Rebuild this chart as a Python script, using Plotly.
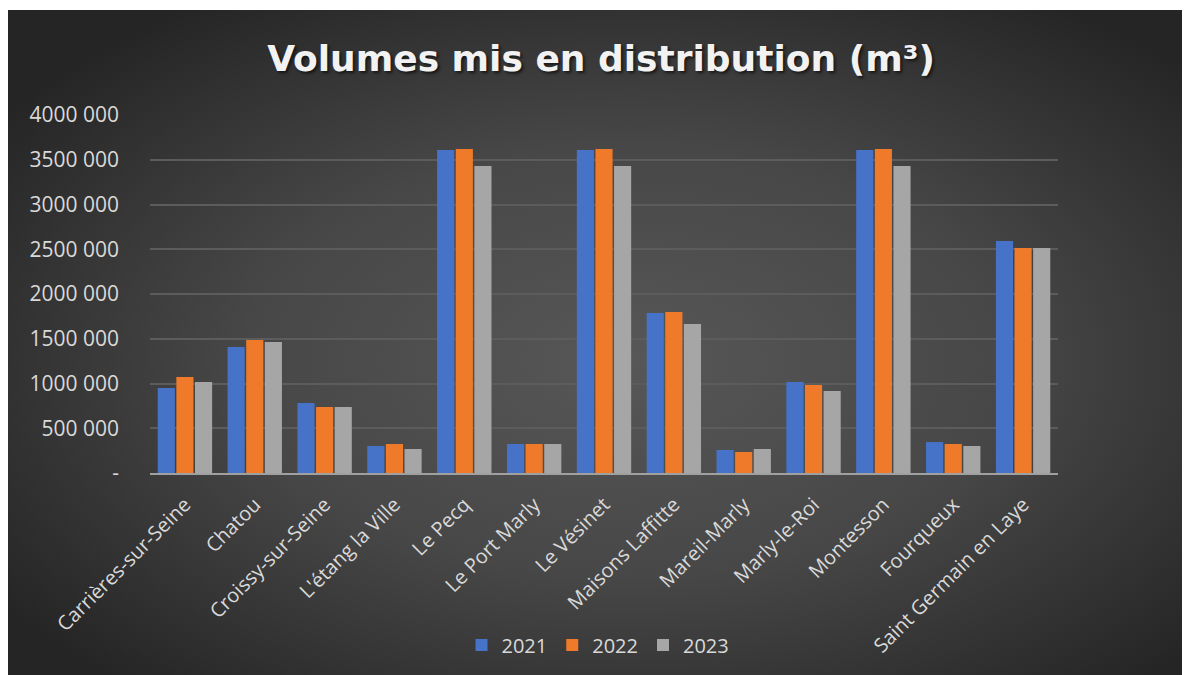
import urllib.parse
import plotly.graph_objects as go

communes = ["Carrières-sur-Seine", "Chatou", "Croissy-sur-Seine", "L'étang la Ville",
            "Le Pecq", "Le Port Marly", "Le Vésinet", "Maisons Laffitte", "Mareil-Marly",
            "Marly-le-Roi", "Montesson", "Fourqueux", "Saint Germain en Laye"]
v2021 = [950000, 1408000, 782000, 302000, 3609000, 324000, 3609000, 1788000, 257000,
         1017000, 3609000, 346000, 2592000]
v2022 = [1073000, 1486000, 737000, 324000, 3620000, 324000, 3620000, 1799000, 235000,
         983000, 3620000, 324000, 2514000]
v2023 = [1017000, 1464000, 737000, 268000, 3430000, 324000, 3430000, 1665000, 268000,
         916000, 3430000, 302000, 2514000]
years = ["2021", "2022", "2023"]
y_tickvals = [0, 500000, 1000000, 1500000, 2000000, 2500000, 3000000, 3500000, 4000000]
y_ticktext = ["-", "500 000", "1000 000", "1500 000", "2000 000", "2500 000",
              "3000 000", "3500 000", "4000 000"]

colors = ["#4673c8", "#ef7a2a", "#a6a6a6"]

W, H = 1190, 675
OFF = 8  # page body margin
L, R, T, B = 150 - OFF, 1058 - OFF, 115 - OFF, 473 - OFF

fig = go.Figure()
for name, vals, c in zip(years, [v2021, v2022, v2023], colors):
    fig.add_trace(go.Bar(x=communes, y=vals, name=name,
                         marker=dict(color=c, line=dict(width=0))))

bw, bh = W, H
svg = (
    f"<svg xmlns='http://www.w3.org/2000/svg' width='{bw}' height='{bh}' viewBox='0 0 {bw} {bh}' preserveAspectRatio='none'>"
    "<defs><radialGradient id='g' cx='0.52' cy='0.52' r='0.64'>"
    "<stop offset='0' stop-color='#575757'/><stop offset='0.5' stop-color='#474747'/>"
    "<stop offset='1' stop-color='#252525'/></radialGradient></defs>"
    f"<rect width='{bw}' height='{bh}' fill='url(#g)'/></svg>"
)
src = "data:image/svg+xml;charset=utf-8," + urllib.parse.quote(svg)

pw, ph = R - L, B - T
top_px = 2
fig.add_layout_image(dict(
    source=src, xref="paper", yref="paper",
    x=(0 - L) / pw, y=(B - top_px) / ph,
    sizex=bw / pw, sizey=bh / ph,
    xanchor="left", yanchor="top", sizing="stretch", layer="below"))

font_fam = "Open Sans, sans-serif"
fig.update_layout(
    width=W, height=H,
    margin=dict(l=L, r=W - R, t=T, b=H - B, pad=0),
    paper_bgcolor="white", plot_bgcolor="rgba(0,0,0,0)",
    barmode="group", bargap=0.2, bargroupgap=0.08,
    title=dict(text="<b>Volumes mis en distribution (m³)</b>",
               x=(601 - OFF) / W, xanchor="center", xref="container",
               y=1 - (58 - OFF) / H, yanchor="middle", yref="container",
               font=dict(family="DejaVu Sans, sans-serif", size=36, color="#f2f2f2",
                         shadow="2px 2px 3px rgba(0,0,0,0.6)")),
    font=dict(family=font_fam, color="#d9d9d9", size=20),
    showlegend=True,
    legend=dict(orientation="h", x=(598 - 150) / pw, xanchor="center",
                y=(473 - 645) / ph, yanchor="middle",
                font=dict(size=20, color="#d9d9d9"),
                bgcolor="rgba(0,0,0,0)", itemwidth=30,
                traceorder="normal"),
    xaxis=dict(tickangle=-45, showgrid=False, showline=True, linecolor="#a0a0a0",
               linewidth=2, ticks="", tickfont=dict(size=20, color="#d9d9d9"),
               ticklabelstandoff=10),
    yaxis=dict(range=[0, 4000000], tickvals=y_tickvals, ticktext=y_ticktext,
               showgrid=True, gridcolor="#5c5c5c", gridwidth=1.5,
               zeroline=False, showline=False, ticks="",
               tickfont=dict(size=21, color="#d9d9d9"), ticklabelstandoff=30),
)

fig.write_html("out.html")
